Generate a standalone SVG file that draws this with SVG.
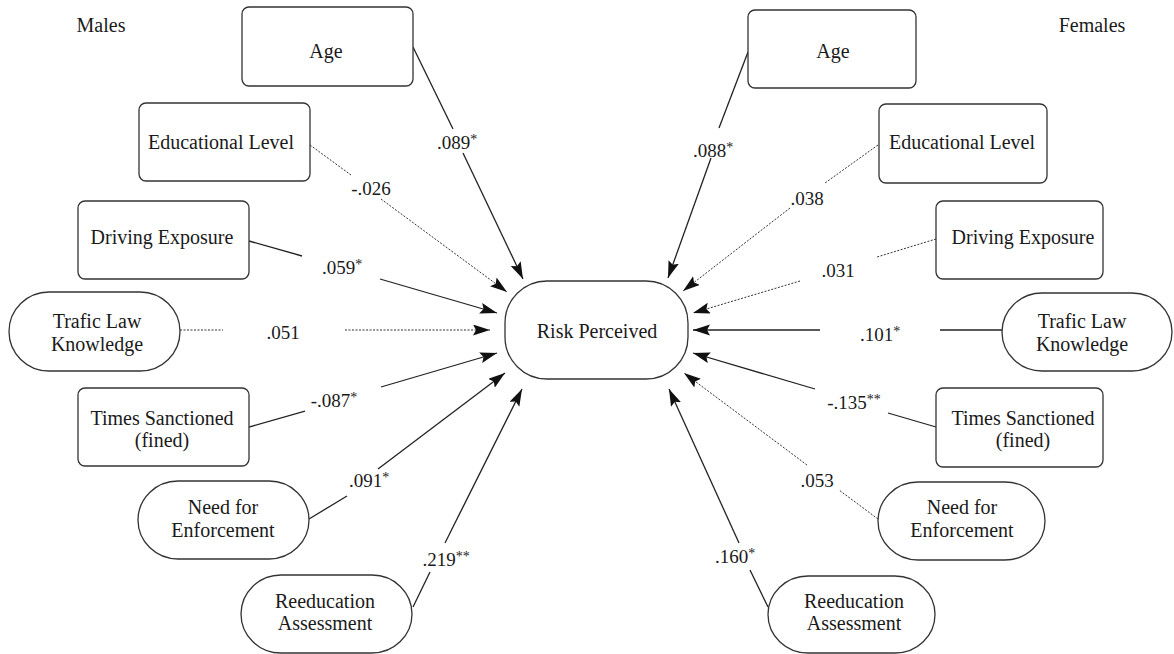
<svg xmlns="http://www.w3.org/2000/svg" width="1174" height="654" viewBox="0 0 1174 654">
<defs>
<style>
text{font-family:"Liberation Serif","Times New Roman",serif;font-size:20px;fill:#1a1a1a;text-anchor:middle}
.lbl{font-size:19px}
.ast{font-size:14px}
.node{fill:#fff;stroke:#333;stroke-width:1.3}
.c{fill:none;stroke:#222;stroke-width:1.3}
.d{fill:none;stroke:#333;stroke-width:1;stroke-dasharray:2 1.5}
</style>
<marker id="ah" markerUnits="userSpaceOnUse" markerWidth="18" markerHeight="13" refX="17" refY="5.5" orient="auto">
<path d="M0,0 L17,5.5 L0,11 L3,5.5 Z" fill="#111"/>
</marker>
</defs>
<rect width="1174" height="654" fill="#fff"/>
<text x="101" y="32">Males</text>
<text x="1092" y="32">Females</text>

<g id="connectors">
<path class="c" d="M413,47 L453,129"/><path class="c" marker-end="url(#ah)" d="M463,153 L523,279"/>
<path class="d" d="M310,145 L351,175"/><path class="d" marker-end="url(#ah)" d="M381,199 L507,292"/>
<path class="c" d="M249,241 L302,256"/><path class="c" marker-end="url(#ah)" d="M380,279 L497,313"/>
<path class="d" d="M180,330 L223,330"/><path class="d" marker-end="url(#ah)" d="M345,330 L490,330"/>
<path class="c" d="M249,427 L305,411"/><path class="c" marker-end="url(#ah)" d="M381,387 L497,353"/>
<path class="c" d="M309,519 L347,496"/><path class="c" marker-end="url(#ah)" d="M378,469 L505,373"/>
<path class="c" d="M413,607 L430,572"/><path class="c" marker-end="url(#ah)" d="M445,543 L522,389"/>
<path class="c" d="M748,52 L719,128"/><path class="c" marker-end="url(#ah)" d="M711,158 L668,278"/>
<path class="d" d="M878,145 L825,183"/><path class="d" marker-end="url(#ah)" d="M790,208 L683,291"/>
<path class="d" d="M936,239 L877,257"/><path class="d" marker-end="url(#ah)" d="M800,281 L693,313"/>
<path class="c" d="M1002,330 L940,330"/><path class="c" marker-end="url(#ah)" d="M820,330 L693,330"/>
<path class="c" d="M936,427 L888,413"/><path class="c" marker-end="url(#ah)" d="M815,389 L693,353"/>
<path class="d" d="M878,519 L839,490"/><path class="d" marker-end="url(#ah)" d="M807,465 L684,373"/>
<path class="c" d="M768,607 L750,570"/><path class="c" marker-end="url(#ah)" d="M739,543 L669,389"/>
</g>

<g id="edge-labels">
<text class="lbl" x="457" y="149">.089<tspan class="ast" dy="-5">*</tspan></text>
<text class="lbl" x="371" y="195">-.026</text>
<text class="lbl" x="342" y="274">.059<tspan class="ast" dy="-5">*</tspan></text>
<text class="lbl" x="283" y="339">.051</text>
<text class="lbl" x="334" y="407">-.087<tspan class="ast" dy="-5">*</tspan></text>
<text class="lbl" x="369" y="487">.091<tspan class="ast" dy="-5">*</tspan></text>
<text class="lbl" x="446" y="566">.219<tspan class="ast" dy="-5">**</tspan></text>
<text class="lbl" x="713" y="157">.088<tspan class="ast" dy="-5">*</tspan></text>
<text class="lbl" x="807" y="205">.038</text>
<text class="lbl" x="838" y="277">.031</text>
<text class="lbl" x="880" y="341">.101<tspan class="ast" dy="-5">*</tspan></text>
<text class="lbl" x="854" y="409">-.135<tspan class="ast" dy="-5">**</tspan></text>
<text class="lbl" x="817" y="487">.053</text>
<text class="lbl" x="735" y="563">.160<tspan class="ast" dy="-5">*</tspan></text>
</g>

<g id="risk-perceived"><rect class="node" x="505" y="281" width="183" height="98" rx="42"/><text x="597" y="338">Risk Perceived</text></g>

<g id="m-age"><rect class="node" x="242" y="7" width="171" height="79" rx="7"/><text x="326" y="58">Age</text></g>
<g id="m-edu"><rect class="node" x="139" y="103" width="171" height="78" rx="7"/><text x="221" y="149">Educational Level</text></g>
<g id="m-drive"><rect class="node" x="78" y="201" width="171" height="78" rx="7"/><text x="162" y="244">Driving Exposure</text></g>
<g id="m-law"><rect class="node" x="9" y="292" width="171" height="79" rx="40"/><text x="97" y="328">Trafic Law</text><text x="97" y="351">Knowledge</text></g>
<g id="m-times"><rect class="node" x="78" y="388" width="171" height="78" rx="7"/><text x="162" y="425">Times Sanctioned</text><text x="162" y="447">(fined)</text></g>
<g id="m-need"><rect class="node" x="138" y="481" width="171" height="78" rx="40"/><text x="223" y="514">Need for</text><text x="223" y="537">Enforcement</text></g>
<g id="m-reedu"><rect class="node" x="241" y="575" width="171" height="78" rx="40"/><text x="325" y="608">Reeducation</text><text x="325" y="630">Assessment</text></g>

<g id="f-age"><rect class="node" x="748" y="10" width="168" height="78" rx="7"/><text x="833" y="58">Age</text></g>
<g id="f-edu"><rect class="node" x="879" y="104" width="168" height="79" rx="7"/><text x="962" y="149">Educational Level</text></g>
<g id="f-drive"><rect class="node" x="936" y="201" width="167" height="78" rx="7"/><text x="1023" y="244">Driving Exposure</text></g>
<g id="f-law"><rect class="node" x="1002" y="293" width="170" height="78" rx="40"/><text x="1082" y="328">Trafic Law</text><text x="1082" y="351">Knowledge</text></g>
<g id="f-times"><rect class="node" x="936" y="388" width="167" height="79" rx="7"/><text x="1023" y="425">Times Sanctioned</text><text x="1023" y="447">(fined)</text></g>
<g id="f-need"><rect class="node" x="878" y="482" width="167" height="78" rx="40"/><text x="962" y="514">Need for</text><text x="962" y="537">Enforcement</text></g>
<g id="f-reedu"><rect class="node" x="768" y="576" width="167" height="77" rx="40"/><text x="854" y="608">Reeducation</text><text x="854" y="630">Assessment</text></g>
</svg>
